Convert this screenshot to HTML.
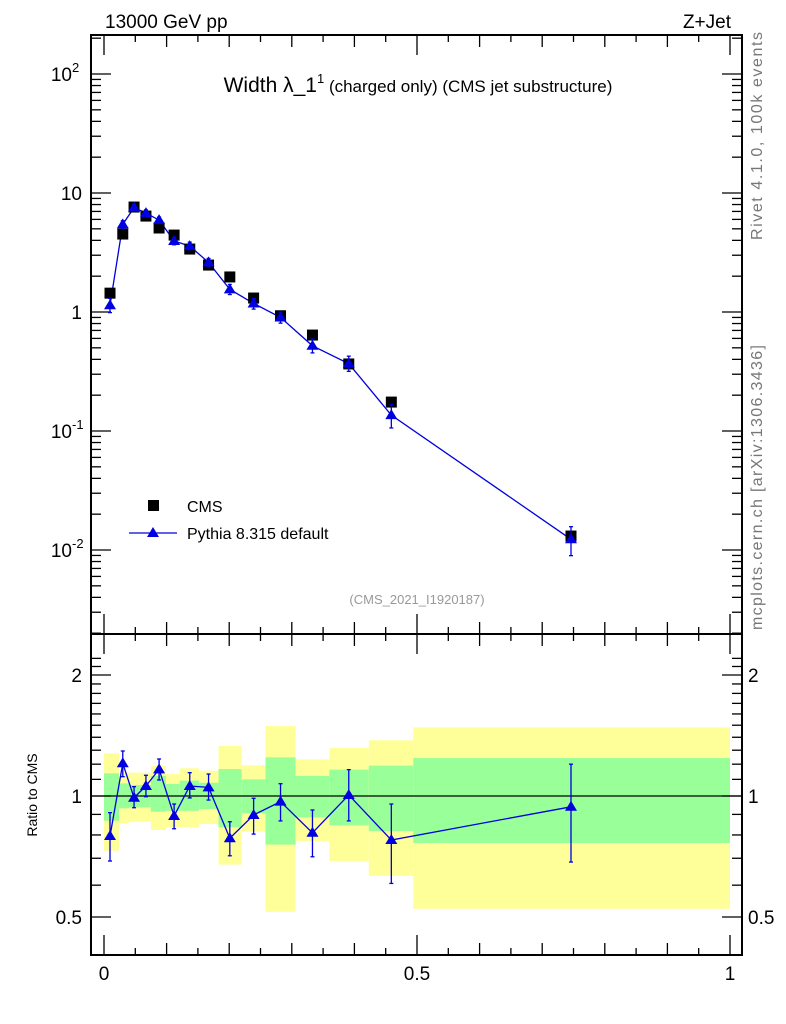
<!DOCTYPE html>
<html><head><meta charset="utf-8"><style>
body{margin:0;background:#fff}
svg{display:block;font-family:"Liberation Sans",sans-serif}
</style></head><body>
<svg id="c" width="786" height="1024" viewBox="0 0 786 1024">
<g id="bands"></g>
<g id="axes"></g>
<g id="series"></g>
<text x="105" y="28" font-size="19">13000 GeV pp</text>
<text x="731" y="28" font-size="19" text-anchor="end">Z+Jet</text>
<text x="418" y="92" font-size="21" text-anchor="middle">Width λ_1<tspan font-size="13" dy="-9">1</tspan><tspan font-size="17" dy="9"> (charged only) (CMS jet substructure)</tspan></text>
<text x="417" y="604" font-size="13" fill="#999" text-anchor="middle">(CMS_2021_I1920187)</text>
<text transform="translate(762,240) rotate(-90)" font-size="16" fill="#777" textLength="208">Rivet 4.1.0,  100k events</text>
<text transform="translate(762,630) rotate(-90)" font-size="16" fill="#777" textLength="285">mcplots.cern.ch [arXiv:1306.3436]</text>
<text transform="translate(37,795) rotate(-90)" font-size="14" text-anchor="middle">Ratio to CMS</text>
<g>
<rect x="148" y="500" width="11" height="11" fill="#000"/>
<text x="187" y="512" font-size="16">CMS</text>
<line x1="129" y1="533" x2="177" y2="533" stroke="#0000e0" stroke-width="1.3"/>
<polygon points="153,527 147,537 159,537" fill="#0000e0"/>
<text x="187" y="539" font-size="16">Pythia 8.315 default</text>
</g>
</svg>
<script>
const xs=[0.0096,0.030,0.048,0.067,0.088,0.112,0.137,0.167,0.201,0.239,0.282,0.333,0.391,0.459,0.746];
const edges=[0,0.024,0.040,0.057,0.075,0.099,0.121,0.152,0.183,0.220,0.258,0.306,0.360,0.423,0.494,1.0];
const cms=[1.44,4.52,7.62,6.4,5.08,4.43,3.38,2.48,1.97,1.31,0.93,0.64,0.366,0.175,0.0131];
const mc=[1.14,5.45,7.54,6.78,5.92,3.95,3.58,2.61,1.55,1.18,0.90,0.52,0.368,0.136,0.0123];
const ratio=[0.795,1.206,0.99,1.059,1.165,0.892,1.059,1.051,0.785,0.897,0.968,0.81,1.006,0.777,0.94];
const rHi=[0.909,1.294,1.055,1.126,1.236,0.955,1.143,1.134,0.863,0.987,1.073,0.923,1.163,0.955,1.2];
const rLo=[0.689,1.117,0.935,0.996,1.096,0.829,0.989,0.977,0.710,0.804,0.867,0.706,0.867,0.606,0.685];
const yelLo=[0.731,0.855,0.863,0.863,0.823,0.836,0.836,0.852,0.675,0.815,0.515,0.773,0.689,0.633,0.524];
const yelHi=[1.277,1.143,1.143,1.143,1.188,1.134,1.172,1.156,1.332,1.192,1.493,1.234,1.316,1.376,1.482];
const grnLo=[0.868,0.932,0.937,0.937,0.914,0.919,0.919,0.928,0.836,0.906,0.757,0.885,0.845,0.818,0.764];
const grnHi=[1.139,1.075,1.065,1.065,1.122,1.071,1.092,1.079,1.167,1.100,1.248,1.122,1.163,1.190,1.243];
const xTicks=["0","0.5","1"];
const NS="http://www.w3.org/2000/svg";
const L=91,R=742,T=35,M=634,B=955;
const X=v=>104+626*v;
const Y=v=>312-119*Math.log10(v);
const YR=r=>796-121*Math.log2(r);
function mk(par,tag,at){const e=document.createElementNS(NS,tag);for(const k in at)e.setAttribute(k,at[k]);document.getElementById(par).appendChild(e);return e;}
for(let i=0;i<yelLo.length;i++){
 const x0=X(edges[i]),x1=X(edges[i+1]);
 let e=mk('bands','rect',{x:x0,y:YR(yelHi[i]),width:x1-x0,height:YR(yelLo[i])-YR(yelHi[i]),fill:'#ffff99'});
 
 
 e=mk('bands','rect',{x:x0,y:YR(grnHi[i]),width:x1-x0,height:YR(grnLo[i])-YR(grnHi[i]),fill:'#99ff99'});
 
 
}
mk('axes','rect',{x:L,y:T,width:R-L,height:M-T,fill:'none',stroke:'#000','stroke-width':2});
mk('axes','rect',{x:L,y:M,width:R-L,height:B-M,fill:'none',stroke:'#000','stroke-width':2});
mk('axes','line',{x1:L,x2:R,y1:YR(1),y2:YR(1),stroke:'#000','stroke-width':1.3});
for(let k=0;k<=20;k++){const v=k*0.05,x=X(v);const len=k%10==0?20:(k%2==0?12:7);
 for(const [y0,d] of [[T,1],[M,-1],[M,1],[B,-1]]) mk('axes','line',{x1:x,x2:x,y1:y0,y2:y0+d*len,stroke:'#000','stroke-width':1.3});}
xTicks.forEach((t,i)=>{const e=mk('axes','text',{x:X(i*0.5),y:980,'font-size':19,'text-anchor':'middle'});e.textContent=t;
 
 });
for(let d=-3;d<=2;d++){for(let m=1;m<10;m++){const v=m*Math.pow(10,d),y=Y(v);if(y<T||y>M)continue;const len=m==1?20:10;
 mk('axes','line',{x1:L,x2:L+len,y1:y,y2:y,stroke:'#000','stroke-width':1.3});
 mk('axes','line',{x1:R,x2:R-len,y1:y,y2:y,stroke:'#000','stroke-width':1.3});}}
const ylab=[[-2,'10','-2'],[-1,'10','-1'],[0,'1',''],[1,'10',''],[2,'10','2']];
ylab.forEach(([d,b,s])=>{const e=mk('axes','text',{x:s?72:82,y:Y(Math.pow(10,d))+7,'font-size':19,'text-anchor':'end'});e.textContent=b;
 
 
 if(s){const t=mk('axes','text',{x:72,y:Y(Math.pow(10,d))-2,'font-size':13});t.textContent=s;}});
for(let k=3;k<=22;k++){const r=k/10;const y=YR(r);if(y<M||y>B)continue;const maj=(r==0.5||r==1||r==2);
 const len=maj?20:10;
 mk('axes','line',{x1:L,x2:L+len,y1:y,y2:y,stroke:'#000','stroke-width':1.3});
 mk('axes','line',{x1:R,x2:R-len,y1:y,y2:y,stroke:'#000','stroke-width':1.3});}
[[2,'2'],[1,'1'],[0.5,'0.5']].forEach(([r,t])=>{
 let e=mk('axes','text',{x:82,y:YR(r)+7,'font-size':19,'text-anchor':'end'});e.textContent=t;
 
 
 e=mk('axes','text',{x:748,y:YR(r)+7,'font-size':19});e.textContent=t;
 
 });
const col='#0000e0';
mk('series','polyline',{points:xs.map((x,i)=>X(x)+','+Y(mc[i])).join(' '),fill:'none',stroke:col,'stroke-width':1.3});
mk('series','polyline',{points:xs.map((x,i)=>X(x)+','+YR(ratio[i])).join(' '),fill:'none',stroke:col,'stroke-width':1.3});
function tri(x,y){return (x)+','+(y-6)+' '+(x-6)+','+(y+4)+' '+(x+6)+','+(y+4);}
function ebar(x,y1,y2){mk('series','line',{x1:x,x2:x,y1:y1,y2:y2,stroke:col,'stroke-width':1.3});
 mk('series','line',{x1:x-2,x2:x+2,y1:y1,y2:y1,stroke:col,'stroke-width':1.3});
 mk('series','line',{x1:x-2,x2:x+2,y1:y2,y2:y2,stroke:col,'stroke-width':1.3});}
xs.forEach((v,i)=>{const x=X(v);
 let e=mk('series','rect',{x:x-5.5,y:Y(cms[i])-5.5,width:11,height:11,fill:'#000'});
 
 
 const f=ratio[i];
 ebar(x,Y(mc[i]*rHi[i]/f),Y(mc[i]*rLo[i]/f));
 e=mk('series','polygon',{points:tri(x,Y(mc[i])),fill:col});
 
 
 ebar(x,YR(rHi[i]),YR(rLo[i]));
 e=mk('series','polygon',{points:tri(x,YR(ratio[i])),fill:col});
 
 
});
</script>
</body></html>
